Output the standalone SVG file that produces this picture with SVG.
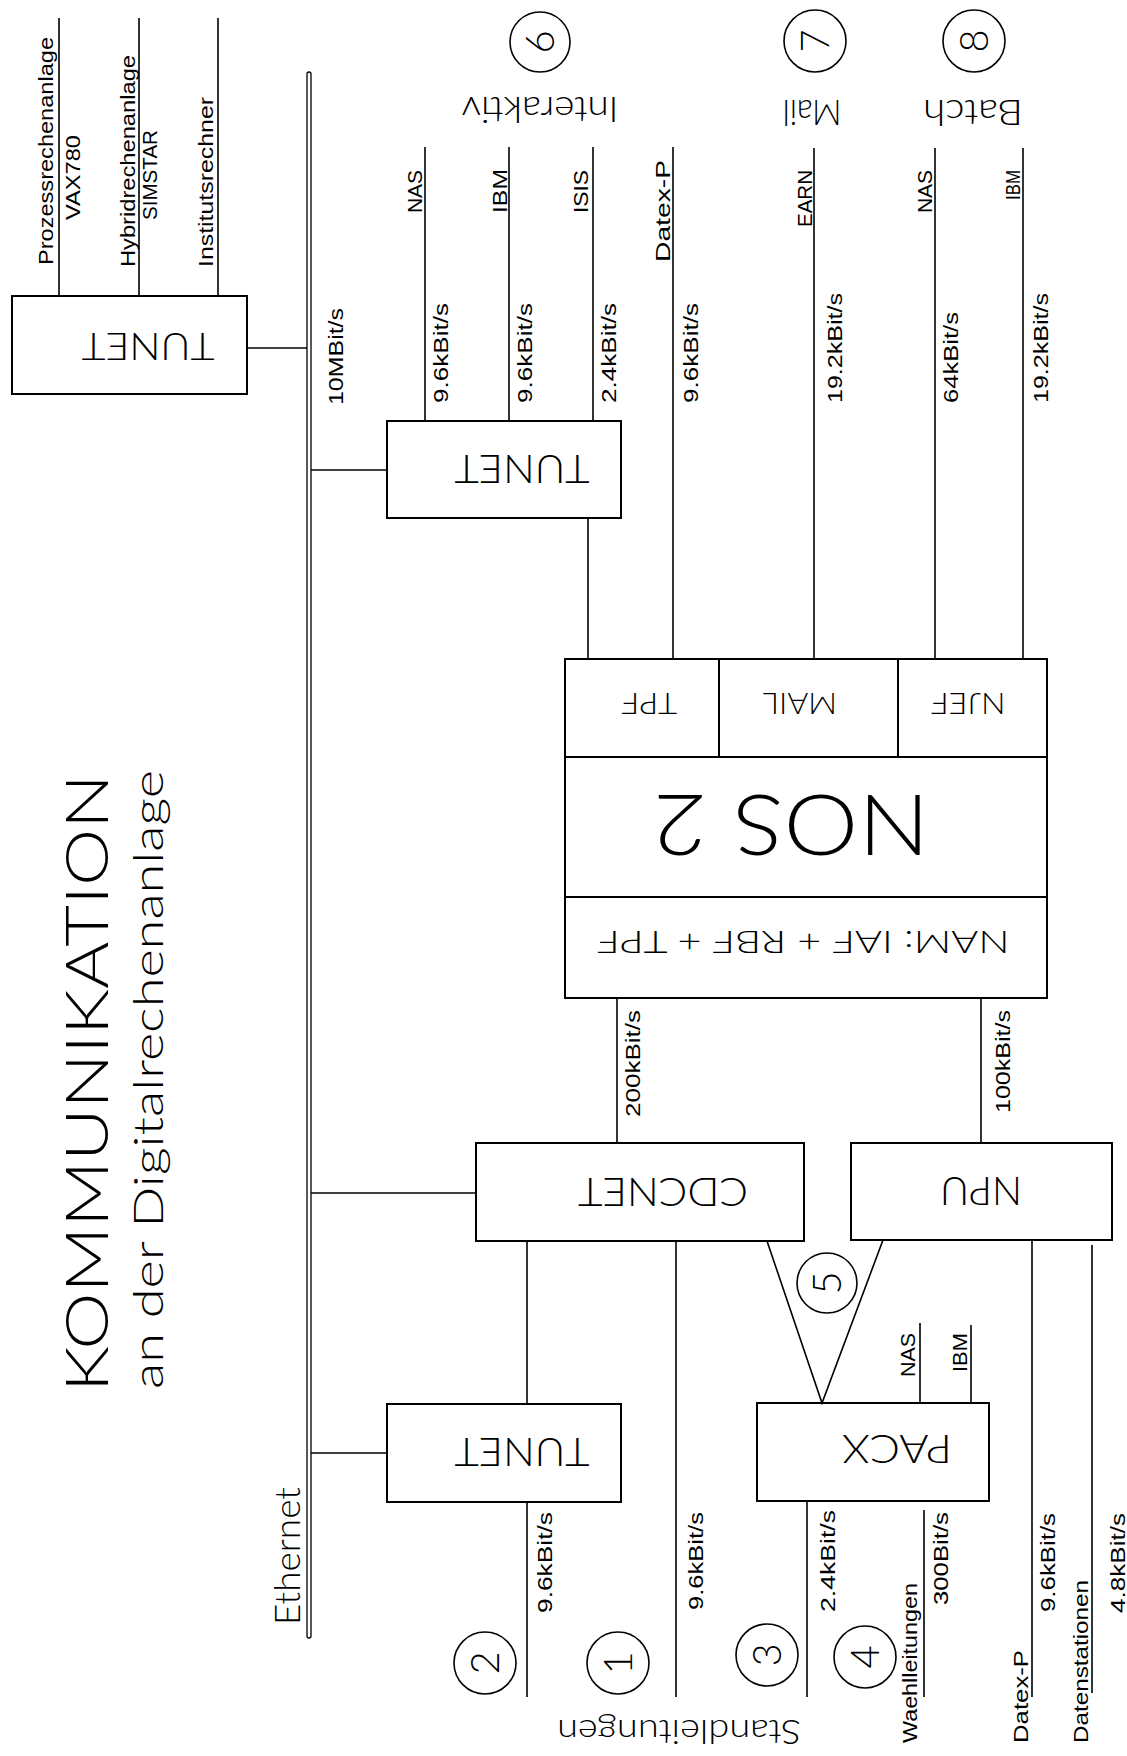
<svg xmlns="http://www.w3.org/2000/svg" width="1127" height="1756" viewBox="0 0 1127 1756">
<style>
.bg{fill:#fff}
.ln{stroke:#000;stroke-width:1.6;fill:none}
.bx{stroke:#000;stroke-width:2;fill:none}
.s{font-family:"Liberation Sans",Arial,sans-serif;font-size:21px;fill:#000}
.p{font-family:Lato,"Liberation Sans",sans-serif;font-weight:300;fill:#000}
</style>
<rect class="bg" x="0" y="0" width="1127" height="1756"/>

<g id="title">
<text class="p" font-size="60" textLength="618" lengthAdjust="spacingAndGlyphs" transform="translate(108,1392) rotate(-90)">KOMMUNIKATION</text>
<text class="p" font-size="42" textLength="619" lengthAdjust="spacingAndGlyphs" transform="translate(163,1389) rotate(-90)">an der Digitalrechenanlage</text>
</g>

<g id="connectors">
<line class="ln" x1="59" y1="18" x2="59" y2="296"/>
<line class="ln" x1="139" y1="18" x2="139" y2="296"/>
<line class="ln" x1="218" y1="18" x2="218" y2="296"/>
<line class="ln" x1="247" y1="348" x2="307" y2="348"/>
<line class="ln" x1="311" y1="470" x2="387" y2="470"/>
<line class="ln" x1="425" y1="147" x2="425" y2="421"/>
<line class="ln" x1="509" y1="147" x2="509" y2="421"/>
<line class="ln" x1="593" y1="147" x2="593" y2="421"/>
<line class="ln" x1="673" y1="147" x2="673" y2="659"/>
<line class="ln" x1="588" y1="518" x2="588" y2="659"/>
<line class="ln" x1="814" y1="148" x2="814" y2="659"/>
<line class="ln" x1="935" y1="148" x2="935" y2="659"/>
<line class="ln" x1="1023" y1="148" x2="1023" y2="659"/>
<line class="ln" x1="617" y1="998" x2="617" y2="1143"/>
<line class="ln" x1="981" y1="998" x2="981" y2="1143"/>
<line class="ln" x1="311" y1="1193" x2="476" y2="1193"/>
<line class="ln" x1="527" y1="1241" x2="527" y2="1404"/>
<line class="ln" x1="527" y1="1502" x2="527" y2="1697"/>
<line class="ln" x1="676" y1="1241" x2="676" y2="1697"/>
<polyline class="ln" points="767,1241 822,1403 883,1240"/>
<line class="ln" x1="920" y1="1323" x2="920" y2="1403"/>
<line class="ln" x1="971" y1="1325" x2="971" y2="1403"/>
<line class="ln" x1="1032" y1="1240" x2="1032" y2="1697"/>
<line class="ln" x1="1092" y1="1245" x2="1092" y2="1693"/>
<line class="ln" x1="311" y1="1453" x2="387" y2="1453"/>
<line class="ln" x1="807" y1="1501" x2="807" y2="1697"/>
<line class="ln" x1="924" y1="1510" x2="924" y2="1697"/>
</g>

<g id="ethernet">
<rect x="307" y="72" width="4" height="1566" rx="2" stroke="#000" stroke-width="1.3" fill="#fff"/>
<text class="p" font-size="35" textLength="138" lengthAdjust="spacingAndGlyphs" transform="translate(300,1625) rotate(-90)">Ethernet</text>
</g>

<g id="labels">
<text class="s" textLength="228" lengthAdjust="spacingAndGlyphs" transform="translate(53,265) rotate(-90)">Prozessrechenanlage</text>
<text class="s" textLength="85" lengthAdjust="spacingAndGlyphs" transform="translate(80,220) rotate(-90)">VAX780</text>
<text class="s" textLength="212" lengthAdjust="spacingAndGlyphs" transform="translate(135,267) rotate(-90)">Hybridrechenanlage</text>
<text class="s" textLength="90" lengthAdjust="spacingAndGlyphs" transform="translate(157,220) rotate(-90)">SIMSTAR</text>
<text class="s" textLength="170" lengthAdjust="spacingAndGlyphs" transform="translate(213,267) rotate(-90)">Institutsrechner</text>
<text class="s" textLength="97" lengthAdjust="spacingAndGlyphs" transform="translate(343,405) rotate(-90)">10MBit/s</text>
<text class="s" textLength="43" lengthAdjust="spacingAndGlyphs" transform="translate(422,213) rotate(-90)">NAS</text>
<text class="s" textLength="100" lengthAdjust="spacingAndGlyphs" transform="translate(448,403) rotate(-90)">9.6kBit/s</text>
<text class="s" font-size="24" textLength="44" lengthAdjust="spacingAndGlyphs" transform="translate(507,213) rotate(-90)">IBM</text>
<text class="s" textLength="100" lengthAdjust="spacingAndGlyphs" transform="translate(532,403) rotate(-90)">9.6kBit/s</text>
<text class="s" textLength="43" lengthAdjust="spacingAndGlyphs" transform="translate(588,213) rotate(-90)">ISIS</text>
<text class="s" textLength="100" lengthAdjust="spacingAndGlyphs" transform="translate(616,403) rotate(-90)">2.4kBit/s</text>
<text class="s" textLength="102" lengthAdjust="spacingAndGlyphs" transform="translate(670,262) rotate(-90)">Datex-P</text>
<text class="s" textLength="100" lengthAdjust="spacingAndGlyphs" transform="translate(698,403) rotate(-90)">9.6kBit/s</text>
<text class="s" textLength="57" lengthAdjust="spacingAndGlyphs" transform="translate(812,227) rotate(-90)">EARN</text>
<text class="s" textLength="110" lengthAdjust="spacingAndGlyphs" transform="translate(842,403) rotate(-90)">19.2kBit/s</text>
<text class="s" textLength="43" lengthAdjust="spacingAndGlyphs" transform="translate(932,213) rotate(-90)">NAS</text>
<text class="s" textLength="91" lengthAdjust="spacingAndGlyphs" transform="translate(958,403) rotate(-90)">64kBit/s</text>
<text class="s" textLength="30" lengthAdjust="spacingAndGlyphs" transform="translate(1020,200) rotate(-90)">IBM</text>
<text class="s" textLength="110" lengthAdjust="spacingAndGlyphs" transform="translate(1048,403) rotate(-90)">19.2kBit/s</text>
<text class="s" textLength="107" lengthAdjust="spacingAndGlyphs" transform="translate(640,1117) rotate(-90)">200kBit/s</text>
<text class="s" textLength="103" lengthAdjust="spacingAndGlyphs" transform="translate(1010,1113) rotate(-90)">100kBit/s</text>
<text class="s" textLength="44" lengthAdjust="spacingAndGlyphs" transform="translate(915,1377) rotate(-90)">NAS</text>
<text class="s" textLength="39" lengthAdjust="spacingAndGlyphs" transform="translate(967,1372) rotate(-90)">IBM</text>
<text class="s" textLength="101" lengthAdjust="spacingAndGlyphs" transform="translate(552,1613) rotate(-90)">9.6kBit/s</text>
<text class="s" textLength="98" lengthAdjust="spacingAndGlyphs" transform="translate(703,1610) rotate(-90)">9.6kBit/s</text>
<text class="s" textLength="102" lengthAdjust="spacingAndGlyphs" transform="translate(835,1612) rotate(-90)">2.4kBit/s</text>
<text class="s" textLength="93" lengthAdjust="spacingAndGlyphs" transform="translate(948,1605) rotate(-90)">300Bit/s</text>
<text class="s" textLength="160" lengthAdjust="spacingAndGlyphs" transform="translate(917,1743) rotate(-90)">Waehlleitungen</text>
<text class="s" textLength="93" lengthAdjust="spacingAndGlyphs" transform="translate(1028,1743) rotate(-90)">Datex-P</text>
<text class="s" textLength="99" lengthAdjust="spacingAndGlyphs" transform="translate(1055,1612) rotate(-90)">9.6kBit/s</text>
<text class="s" textLength="163" lengthAdjust="spacingAndGlyphs" transform="translate(1088,1743) rotate(-90)">Datenstationen</text>
<text class="s" textLength="100" lengthAdjust="spacingAndGlyphs" transform="translate(1125,1613) rotate(-90)">4.8kBit/s</text>
<text class="p" font-size="36" text-anchor="middle" textLength="157" lengthAdjust="spacingAndGlyphs" x="540" y="123" transform="rotate(180 540 110)">Interaktiv</text>
<text class="p" font-size="35" text-anchor="middle" textLength="59" lengthAdjust="spacingAndGlyphs" x="812" y="124" transform="rotate(180 812 112)">Mail</text>
<text class="p" font-size="35" text-anchor="middle" textLength="100" lengthAdjust="spacingAndGlyphs" x="973" y="124" transform="rotate(180 973 112)">Batch</text>
<text class="p" font-size="34" text-anchor="middle" textLength="244" lengthAdjust="spacingAndGlyphs" x="679" y="1744" transform="rotate(180 679 1732)">Standleitungen</text>
</g>

<g id="c6"><circle class="ln" cx="540" cy="42" r="30"/><text class="p" font-size="40" text-anchor="middle" transform="translate(554,42) rotate(-90)">6</text></g>
<g id="c7"><circle class="ln" cx="815" cy="41" r="31"/><text class="p" font-size="40" text-anchor="middle" transform="translate(829,41) rotate(-90)">7</text></g>
<g id="c8"><circle class="ln" cx="974" cy="41" r="31"/><text class="p" font-size="40" text-anchor="middle" transform="translate(988,41) rotate(-90)">8</text></g>
<g id="c5"><circle class="ln" cx="827" cy="1283" r="30"/><text class="p" font-size="40" text-anchor="middle" transform="translate(841,1283) rotate(-90)">5</text></g>
<g id="c2"><circle class="ln" cx="485" cy="1663" r="31"/><text class="p" font-size="40" text-anchor="middle" transform="translate(499,1663) rotate(-90)">2</text></g>
<g id="c1"><circle class="ln" cx="618" cy="1663" r="31"/><text class="p" font-size="40" text-anchor="middle" transform="translate(632,1663) rotate(-90)">1</text></g>
<g id="c3"><circle class="ln" cx="767" cy="1655" r="31"/><text class="p" font-size="40" text-anchor="middle" transform="translate(781,1655) rotate(-90)">3</text></g>
<g id="c4"><circle class="ln" cx="865" cy="1657" r="31"/><text class="p" font-size="40" text-anchor="middle" transform="translate(879,1657) rotate(-90)">4</text></g>

<g id="tunet1"><rect class="bx" x="12" y="296" width="235" height="98"/><text class="p" font-size="38" text-anchor="middle" textLength="133" lengthAdjust="spacingAndGlyphs" x="148" y="360" transform="rotate(180 148 346.5)">TUNET</text></g>
<g id="tunet2"><rect class="bx" x="387" y="421" width="234" height="97"/><text class="p" font-size="39" text-anchor="middle" textLength="135" lengthAdjust="spacingAndGlyphs" x="522" y="483" transform="rotate(180 522 469)">TUNET</text></g>
<g id="nos2">
<rect class="bx" x="565" y="659" width="482" height="339"/>
<line class="bx" x1="565" y1="757" x2="1047" y2="757"/>
<line class="bx" x1="565" y1="897" x2="1047" y2="897"/>
<line class="bx" x1="719" y1="659" x2="719" y2="757"/>
<line class="bx" x1="898" y1="659" x2="898" y2="757"/>
<text class="p" font-size="30" text-anchor="middle" textLength="56" lengthAdjust="spacingAndGlyphs" x="649" y="715" transform="rotate(180 649 704)">TPF</text>
<text class="p" font-size="30" text-anchor="middle" textLength="74" lengthAdjust="spacingAndGlyphs" x="800" y="715" transform="rotate(180 800 704)">MAIL</text>
<text class="p" font-size="30" text-anchor="middle" textLength="75" lengthAdjust="spacingAndGlyphs" x="968" y="715" transform="rotate(180 968 704)">NJEF</text>
<text class="p" font-size="84" text-anchor="middle" textLength="277" lengthAdjust="spacingAndGlyphs" x="791" y="855" transform="rotate(180 791 825)">NOS 2</text>
<text class="p" font-size="32" text-anchor="middle" textLength="413" lengthAdjust="spacingAndGlyphs" x="803" y="953.5" transform="rotate(180 803 942)">NAM: IAF + RBF + TPF</text>
</g>
<g id="cdcnet"><rect class="bx" x="476" y="1143" width="328" height="98"/><text class="p" font-size="40" text-anchor="middle" textLength="170" lengthAdjust="spacingAndGlyphs" x="663" y="1206.5" transform="rotate(180 663 1192)">CDCNET</text></g>
<g id="npu"><rect class="bx" x="851" y="1143" width="261" height="97"/><text class="p" font-size="40" text-anchor="middle" textLength="82" lengthAdjust="spacingAndGlyphs" x="981" y="1205" transform="rotate(180 981 1191)">NPU</text></g>
<g id="tunet3"><rect class="bx" x="387" y="1404" width="234" height="98"/><text class="p" font-size="40" text-anchor="middle" textLength="135" lengthAdjust="spacingAndGlyphs" x="522" y="1468" transform="rotate(180 522 1453)">TUNET</text></g>
<g id="pacx"><rect class="bx" x="757" y="1403" width="232" height="98"/><text class="p" font-size="40" text-anchor="middle" textLength="110" lengthAdjust="spacingAndGlyphs" x="897" y="1465" transform="rotate(180 897 1450)">PACX</text></g>
</svg>
